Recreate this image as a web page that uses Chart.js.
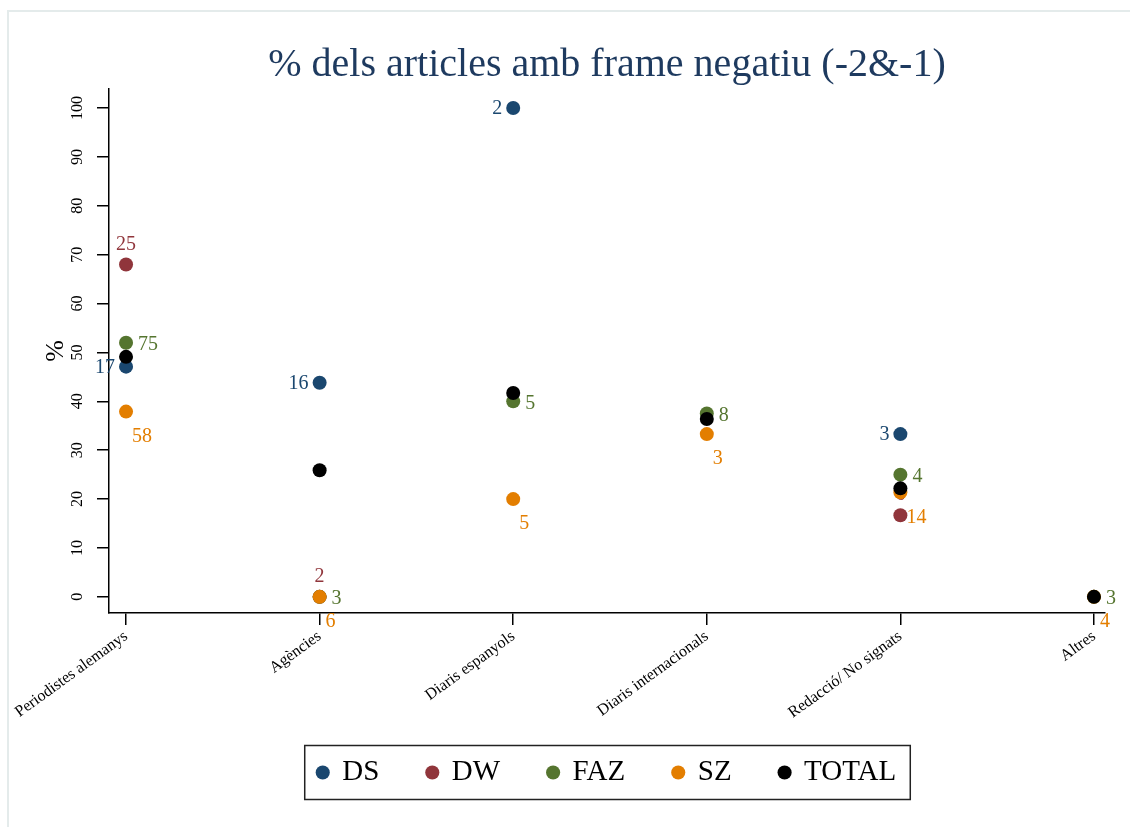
<!DOCTYPE html>
<html>
<head>
<meta charset="utf-8">
<script src="https://cdn.jsdelivr.net/npm/chart.js@4.4.0/dist/chart.umd.min.js"></script>
<style>
  body { margin: 0; background: #ffffff; }
</style>
</head>
<body>
<canvas id="canvas" width="1130" height="827"></canvas>
<script>
const categories = [
  "Periodistes alemanys",
  "Agències",
  "Diaris espanyols",
  "Diaris internacionals",
  "Redacció/ No signats",
  "Altres",
];

// % of articles with negative frame, per newspaper
const dsValues = [47.1, 43.8, 100, null, 33.3, null];
const dwValues = [68, 0, null, null, 16.7, null];
const fazValues = [52, 0, 40, 37.5, 25, 0];
const szValues = [37.9, 0, 20, 33.3, 21.4, 0];
const totalValues = [49.1, 25.9, 41.7, 36.4, 22.2, 0];

// number of articles shown next to each marker
const dsCounts = [17, 16, 2, null, 3, null];
const dwCounts = [25, 2, null, null, 6, null];
const fazCounts = [75, 3, 5, 8, 4, 3];
const szCounts = [58, 6, 5, 3, 14, 4];

const yTicks = [0, 10, 20, 30, 40, 50, 60, 70, 80, 90, 100];

const serif = '"Liberation Serif", "Times New Roman", serif';

function toPoints(values, counts) {
  const pts = [];
  values.forEach((v, i) => {
    if (v === null) return;
    pts.push({ x: i + 1, y: v, n: counts ? counts[i] : null });
  });
  return pts;
}

function makeSet(label, values, counts, color, order, labelPos) {
  return {
    label: label,
    data: toPoints(values, counts),
    backgroundColor: color,
    borderColor: color,
    borderWidth: 0,
    pointRadius: 7,
    pointHoverRadius: 7,
    pointStyle: "circle",
    order: order,
    labelPos: labelPos,
  };
}

// draws the counts next to the markers (under the markers, like the original)
const pointCounts = {
  id: "pointCounts",
  afterLayout(chart) {
    // let the slanted category labels run past the bottom of the x scale box
    chart.scales.x.bottom = chart.height;
  },
  beforeDatasetsDraw(chart) {
    const ctx = chart.ctx;
    ctx.save();
    ctx.font = "20px " + serif;
    ctx.textBaseline = "middle";
    chart.data.datasets.forEach((set, i) => {
      const meta = chart.getDatasetMeta(i);
      meta.data.forEach((pt, j) => {
        const n = set.data[j].n;
        if (n === null || n === undefined) return;
        ctx.fillStyle = set.backgroundColor;
        let x = pt.x, y = pt.y;
        if (set.labelPos === "left") {
          ctx.textAlign = "right";
          x -= 11; y += 1;
        } else if (set.labelPos === "right") {
          ctx.textAlign = "left";
          x += 12; y += 2;
        } else if (set.labelPos === "top") {
          ctx.textAlign = "center";
          y -= 20;
        } else {
          ctx.textAlign = "left";
          x += 6; y += 25;
        }
        ctx.fillText(String(n), x, y);
      });
    });
    ctx.restore();
  },
};

// faint outer frame + box round the legend
const frames = {
  id: "frames",
  beforeDraw(chart) {
    const ctx = chart.ctx;
    ctx.save();
    ctx.strokeStyle = "#e4ebeb";
    ctx.lineWidth = 2;
    ctx.strokeRect(8, 11, 1150, 850);
    ctx.restore();
  },
  afterDraw(chart) {
    const boxes = chart.legend.legendHitBoxes;
    if (!boxes || !boxes.length) return;
    const first = boxes[0];
    const last = boxes[boxes.length - 1];
    const cy = first.top + first.height / 2;
    const ctx = chart.ctx;
    ctx.save();
    ctx.strokeStyle = "#222222";
    ctx.lineWidth = 1.5;
    ctx.strokeRect(first.left - 13, cy - 27, last.left + last.width + 14 - (first.left - 13), 54);
    ctx.restore();
  },
};

const ctx = document.getElementById("canvas").getContext("2d");
new Chart(ctx, {
  type: "scatter",
  data: {
    datasets: [
      makeSet("DS", dsValues, dsCounts, "#1a476f", 4, "left"),
      makeSet("DW", dwValues, dwCounts, "#90353b", 3, "top"),
      makeSet("FAZ", fazValues, fazCounts, "#55752f", 2, "right"),
      makeSet("SZ", szValues, szCounts, "#e37e00", 1, "lowerRight"),
      makeSet("TOTAL", totalValues, null, "#000000", 0, null),
    ],
  },
  options: {
    responsive: false,
    animation: false,
    layout: { padding: { top: 8, left: 38, right: 25, bottom: 30 } },
    plugins: {
      tooltip: { enabled: false },
      title: {
        display: true,
        fullSize: false,
        text: "% dels articles amb frame negatiu (-2&-1)",
        color: "#1e3a5f",
        font: { family: serif, size: 40, weight: "normal" },
        padding: { top: 33, bottom: 0 },
      },
      legend: {
        display: true,
        position: "bottom",
        fullSize: false,
        labels: {
          usePointStyle: true,
          boxWidth: 10,
          boxHeight: 10,
          padding: 48,
          color: "#000000",
          font: { family: serif, size: 29 },
          sort: (a, b) => a.datasetIndex - b.datasetIndex,
        },
      },
    },
    scales: {
      x: {
        type: "linear",
        min: 0.912,
        max: 6.057,
        afterBuildTicks(scale) {
          scale.ticks = categories.map((c, i) => ({ value: i + 1 }));
        },
        afterFit(scale) {
          scale.height = 97;
        },
        grid: { drawOnChartArea: false, tickLength: 12, color: "#000000", lineWidth: 1.5 },
        border: { color: "#000000", width: 1.5 },
        ticks: {
          autoSkip: false,
          minRotation: 36,
          maxRotation: 36,
          padding: 2,
          color: "#000000",
          font: { family: serif, size: 16 },
          callback: (value, index) => categories[index],
        },
      },
      y: {
        min: -3.3,
        max: 103.9,
        afterBuildTicks(scale) {
          scale.ticks = yTicks.map((v) => ({ value: v }));
        },
        afterFit(scale) {
          scale.width = 71;
        },
        grid: { drawOnChartArea: false, tickLength: 12, color: "#000000", lineWidth: 1.5 },
        border: { color: "#000000", width: 1.5 },
        ticks: {
          minRotation: 90,
          maxRotation: 90,
          crossAlign: "center",
          padding: 7,
          color: "#000000",
          font: { family: serif, size: 16 },
        },
        title: {
          display: true,
          text: "%",
          color: "#000000",
          font: { family: serif, size: 26 },
          padding: { top: 3, bottom: 0 },
        },
      },
    },
  },
  plugins: [pointCounts, frames],
});
</script>
</body>
</html>
